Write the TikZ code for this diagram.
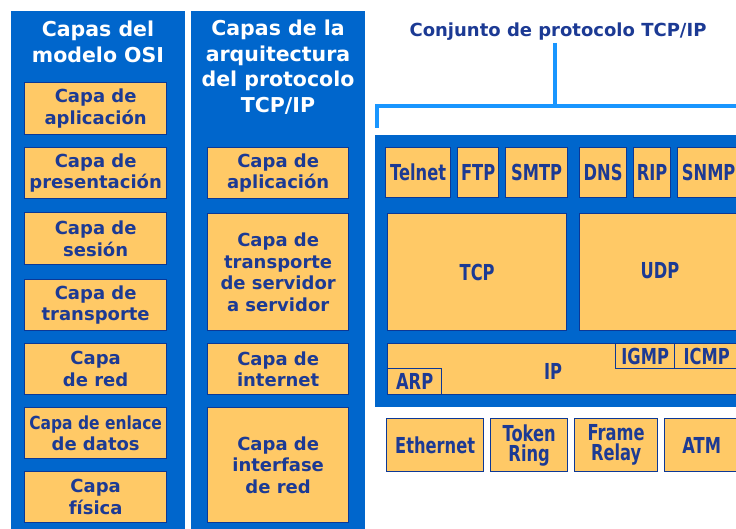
\documentclass[tikz,border=0pt]{standalone}
\usepackage{fontspec}
\setmainfont{DejaVu Sans}
\newfontfamily\angosto[FakeStretch=0.86]{DejaVu Sans}
\newfontfamily\condfont[FakeStretch=0.74]{DejaVu Sans}

\definecolor{azulfondo}{RGB}{0,102,204}
\definecolor{naranja}{RGB}{255,201,102}
\definecolor{azultexto}{RGB}{28,58,148}
\definecolor{borde}{RGB}{12,56,150}
\definecolor{celeste}{RGB}{25,150,255}

\tikzset{
  caja/.style 2 args={minimum width=#1, minimum height=#2},
  capa/.style={draw=borde, fill=naranja, line width=1.3pt, inner sep=0pt, anchor=north west,
    align=center, text=azultexto, font=\bfseries\fontsize{18}{21.5}\selectfont},
  proto/.style={capa, font=\condfont\bfseries\fontsize{22}{20}\selectfont},
  etiqueta/.style={text=azultexto, font=\condfont\bfseries\fontsize{22}{20}\selectfont},
  titulo/.style={text=white, align=center, inner sep=0pt, font=\bfseries\fontsize{20.5}{25.5}\selectfont},
  corchete/.style={draw=celeste, line width=4pt, line join=miter},
}

\begin{document}
\begin{tikzpicture}[x=1pt, y=-1pt]
  \useasboundingbox (0,0) rectangle (736,529);
  \clip (0,0) rectangle (736,529);
  \fill[white] (0,0) rectangle (736,529);

  % columnas de fondo
  \fill[azulfondo] (11,11) rectangle (185,540);
  \fill[azulfondo] (191,11) rectangle (365,540);
  \node[titulo] (tosi) at (98,42) {Capas del\\modelo OSI};
  \node[titulo] (ttcp) at (278,67) {Capas de la\\arquitectura\\del protocolo\\TCP/IP};

  % modelo OSI
  \node[capa, caja={142}{52}] (aplic) at (24,82) {Capa de\\aplicación};
  \node[capa, caja={142}{51}] (pres) at (24,147) {Capa de\\presentación};
  \node[capa, caja={142}{52}] (ses) at (24,212) {Capa de\\sesión};
  \node[capa, caja={142}{51}] (trans) at (24,279) {Capa de\\transporte};
  \node[capa, caja={142}{51}] (red) at (24,343) {Capa\\de red};
  \node[capa, caja={142}{51}] (enlace) at (24,407) {{\angosto Capa de enlace}\\de datos};
  \node[capa, caja={142}{51}] (fis) at (24,471) {Capa\\física};

  % arquitectura TCP/IP
  \node[capa, caja={141}{51}] (aplic2) at (207,147) {Capa de\\aplicación};
  \node[capa, caja={141}{117}] (trans2) at (207,213) {Capa de\\transporte\\de servidor\\a servidor};
  \node[capa, caja={141}{51}] (inet) at (207,343) {Capa de\\internet};
  \node[capa, caja={141}{115}] (ifase) at (207,407) {Capa de\\interfase\\de red};

  % conjunto de protocolos
  \node[text=azultexto, inner sep=2pt, font=\bfseries\fontsize{18}{21}\selectfont] (conj) at (558,32) {Conjunto de protocolo TCP/IP};
  \coordinate (brL) at (377,128);
  \coordinate (brR) at (750,106);
  \draw[corchete] (conj.south -| 555,0) -- (555,106);
  \draw[corchete] (brL) |- (brR);

  \fill[azulfondo] (375,135) rectangle (760,407);

  \node[proto, caja={65}{50}] (telnet) at (385,147) {Telnet};
  \node[proto, caja={41}{50}] (ftp) at (457,147) {FTP};
  \node[proto, caja={62}{50}] (smtp) at (505,147) {SMTP};
  \node[proto, caja={47}{50}] (dns) at (579,147) {DNS};
  \node[proto, caja={37}{50}] (rip) at (633,147) {RIP};
  \node[proto, caja={62}{50}] (snmp) at (677,147) {SNMP};

  \node[proto, caja={179}{117}] (tcp) at (387,213) {TCP};
  \node[proto, caja={162}{117}] (udp) at (579,213) {};
  \node[etiqueta] (udplbl) at (660,271) {UDP};

  \node[proto, caja={360}{51}] (ip) at (387,343) {};
  \node[etiqueta] (iplbl) at (553,371) {IP};
  \node[proto, caja={54}{26}] (arp) at (387,368) {ARP};
  \node[proto, caja={59}{25}] (igmp) at (615,343) {IGMP};
  \node[proto, caja={64}{25}] (icmp) at (674,343) {ICMP};

  \node[proto, caja={97}{53}] (eth) at (386,418) {Ethernet};
  \node[proto, caja={77}{53}] (token) at (490,418) {Token\\Ring};
  \node[proto, caja={83}{53}] (frame) at (574,418) {Frame\\Relay};
  \node[proto, caja={74}{53}] (atm) at (664,418) {ATM};
\end{tikzpicture}
\end{document}
